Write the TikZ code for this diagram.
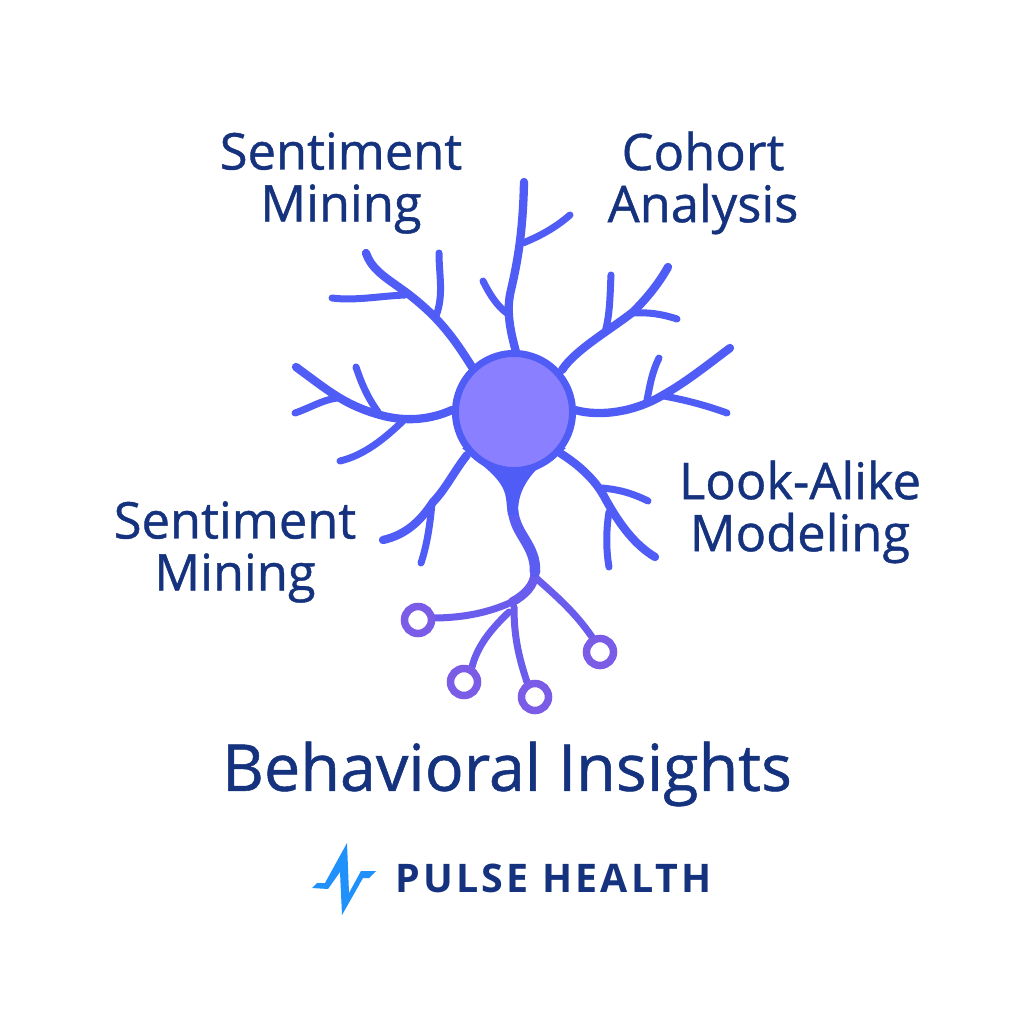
\documentclass[tikz,border=0pt]{standalone}
\usepackage{fontspec}
\setmainfont{Open Sans}
\newfontfamily\medfont[FakeBold=0.8]{Open Sans}
\definecolor{navy}{HTML}{15327E}
\definecolor{nA}{HTML}{4F5CF5}
\definecolor{nB}{HTML}{5A5CF2}
\definecolor{nC}{HTML}{6A5CEC}
\definecolor{nD}{HTML}{7A5CE6}
\definecolor{somaF}{HTML}{8A80FF}
\definecolor{logoB}{HTML}{2090FA}
\tikzset{
  x=0.01cm,y=-0.01cm,
  dend/.style={draw=nA,line width=0.083cm,line cap=round,line join=round},
  twig/.style={draw=nA,line width=0.07cm,line cap=round,line join=round},
  thick axon/.style={draw=nB,line width=0.105cm,line cap=round,line join=round},
  lowb/.style={draw=nC,line width=0.07cm,line cap=round},
  term/.style={circle,draw=nD,line width=0.075cm,fill=white,minimum size=0.27cm,inner sep=0pt},
  lab/.style={text=navy,align=center,font=\medfont\fontsize{14.4pt}{14.8pt}\selectfont,inner sep=0pt},
}
\begin{document}
\begin{tikzpicture}
\useasboundingbox (0,0) rectangle (1024,1024);
\fill[white] (0,0) rectangle (1024,1024);
% top
\draw[dend] (516,352) .. controls (510,330) and (506,310) .. (511,290) .. controls (518,260) and (523,230) .. (524,182);
\draw[twig] (523,243) .. controls (540,236) and (555,228) .. (570,215);
\draw[twig] (508,314) .. controls (497,306) and (490,295) .. (483,281);
% upper left
\draw[dend] (472,367) .. controls (455,340) and (440,318) .. (407,293) .. controls (385,277) and (372,270) .. (366,253);
\draw[twig] (405,295) .. controls (380,296) and (355,301) .. (332,298);
\draw[twig] (436,316) .. controls (444,295) and (439,275) .. (439,253);
% upper right
\draw[dend] (562,370) .. controls (575,350) and (610,330) .. (633,312) .. controls (645,300) and (658,285) .. (668,267);
\draw[twig] (605,332) .. controls (610,315) and (610,295) .. (611,275);
\draw[twig] (632,313) .. controls (648,312) and (662,314) .. (677,319);
% right
\draw[dend] (575,410) .. controls (600,417) and (635,412) .. (663,395) .. controls (685,383) and (710,363) .. (730,348);
\draw[twig] (647,400) .. controls (650,385) and (652,372) .. (659,358);
\draw[twig] (664,396) .. controls (685,400) and (705,405) .. (727,413);
% left
\draw[dend] (452,410) .. controls (430,420) and (405,422) .. (380,415) .. controls (345,405) and (330,392) .. (296,367);
\draw[twig] (378,412) .. controls (368,398) and (362,385) .. (356,367);
\draw[twig] (337,398) .. controls (322,400) and (310,408) .. (295,413);
\draw[twig] (403,421) .. controls (385,438) and (365,455) .. (340,461);
% lower left
\draw[dend] (467,455) .. controls (455,470) and (445,490) .. (433,502) .. controls (420,522) and (405,535) .. (383,540);
\draw[twig] (432,503) .. controls (430,525) and (427,545) .. (421,563);
% lower right
\draw[dend] (560,453) .. controls (582,467) and (597,482) .. (606,500) .. controls (620,525) and (635,545) .. (655,557);
\draw[twig] (601,488) .. controls (617,489) and (632,493) .. (648,501);
\draw[twig] (609,512) .. controls (606,530) and (606,550) .. (609,567);
% axon terminals
\draw[lowb] (536,578) .. controls (555,595) and (575,612) .. (592,637);
\draw[lowb] (509,612) .. controls (490,630) and (477,647) .. (472,667);
\draw[lowb] (514,607) .. controls (514,635) and (518,655) .. (527,682);
\draw[lowb] (432,618) .. controls (465,618) and (490,612) .. (512,602);
\draw[thick axon,draw=nC,line width=0.09cm] (512,602) .. controls (525,595) and (535,585) .. (535,572);
\draw[thick axon] (535,572) .. controls (536,545) and (515,535) .. (513,510);
% axon hillock
\fill[nA] (462,448) .. controls (482,466) and (503,478) .. (506,498) .. controls (507,505) and (507,510) .. (508,515) -- (518,515) .. controls (518,505) and (518,490) .. (535,471) .. controls (542,466) and (555,458) .. (566,448) -- cycle;
\node[term] (t1) at (418,620) {};
\node[term] (t2) at (464,682) {};
\node[term] (t3) at (535,697) {};
\node[term] (t4) at (600,652) {};
% soma
\node[circle,draw=nA,line width=0.07cm,fill=somaF,minimum size=1.17cm,inner sep=0pt] (soma) at (514,412) {};
% labels
\node[lab] (l1) at (341,183) {Sentiment\\Mining};
\node[lab] (l2) at (703,183) {Cohort\\Analysis};
\node[lab] (l3) at (235,552) {Sentiment\\Mining};
\node[lab] (l4) at (800,512) {Look-Alike\\Modeling};
\node[text=navy,inner sep=0pt,font=\medfont\fontsize{18.4pt}{18pt}\selectfont] (title) at (507,774) {Behavioral Insights};
\node[text=navy,inner sep=0pt,font=\fontsize{11.2pt}{12pt}\selectfont\bfseries,anchor=west] (brand) at (395,878) {\addfontfeature{LetterSpace=8}PULSE HEALTH};
% logo
\fill[logoB] (312,888) -- (317,883) -- (325,883) -- (347,843) -- (349,893) -- (361,871) -- (376,871) -- (369,878) -- (363,878) -- (342,915) -- (340,872) -- (328,889) -- cycle;
\end{tikzpicture}
\end{document}
